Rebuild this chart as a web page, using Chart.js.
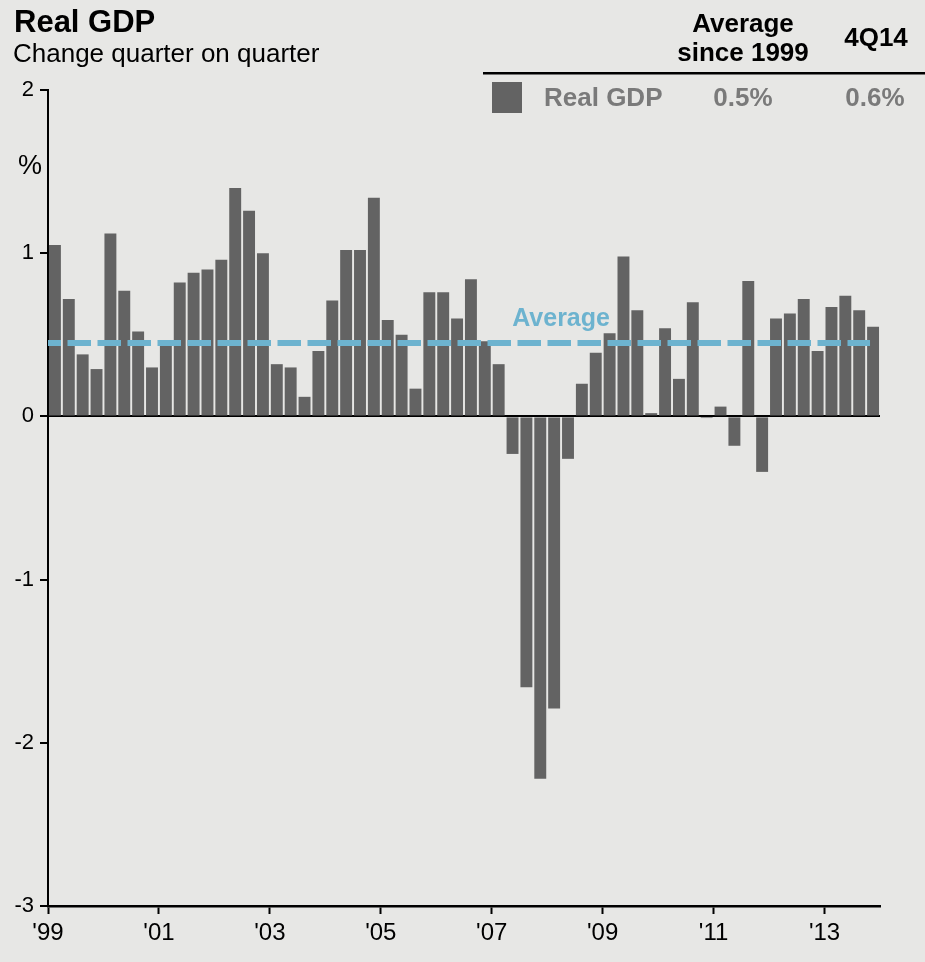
<!doctype html>
<html lang="en">
<head>
<meta charset="utf-8">
<title>Real GDP</title>
<script src="https://cdn.jsdelivr.net/npm/chart.js@4"></script>
<style>
  html, body { margin: 0; padding: 0; background: #e7e7e5; }
  canvas { display: block; }
</style>
</head>
<body>
<canvas id="gdp" width="925" height="962"></canvas>
<script>
// Real GDP, % change quarter on quarter, 1Q99 – 4Q13
const quarters = [
  '1Q99', '2Q99', '3Q99', '4Q99', '1Q00', '2Q00', '3Q00', '4Q00',
  '1Q01', '2Q01', '3Q01', '4Q01', '1Q02', '2Q02', '3Q02', '4Q02',
  '1Q03', '2Q03', '3Q03', '4Q03', '1Q04', '2Q04', '3Q04', '4Q04',
  '1Q05', '2Q05', '3Q05', '4Q05', '1Q06', '2Q06', '3Q06', '4Q06',
  '1Q07', '2Q07', '3Q07', '4Q07', '1Q08', '2Q08', '3Q08', '4Q08',
  '1Q09', '2Q09', '3Q09', '4Q09', '1Q10', '2Q10', '3Q10', '4Q10',
  '1Q11', '2Q11', '3Q11', '4Q11', '1Q12', '2Q12', '3Q12', '4Q12',
  '1Q13', '2Q13', '3Q13', '4Q13',
];
const gdpChange = [
  1.05, 0.72, 0.38, 0.29, 1.12, 0.77, 0.52, 0.30,
  0.44, 0.82, 0.88, 0.90, 0.96, 1.40, 1.26, 1.00,
  0.32, 0.30, 0.12, 0.40, 0.71, 1.02, 1.02, 1.34,
  0.59, 0.50, 0.17, 0.76, 0.76, 0.60, 0.84, 0.46,
  0.32, -0.23, -1.66, -2.22, -1.79, -0.26, 0.20, 0.39,
  0.51, 0.98, 0.65, 0.02, 0.54, 0.23, 0.70, -0.01,
  0.06, -0.18, 0.83, -0.34, 0.60, 0.63, 0.72, 0.40,
  0.67, 0.74, 0.65, 0.55,
];
const yearTicks = [1999, 2001, 2003, 2005, 2007, 2009, 2011, 2013];
const valueTicks = [-3, -2, -1, 0, 1, 2];
const averageSince1999 = 0.45;
const averageSpan = [1999, 2013.82];
const latestChange = gdpChange[gdpChange.length - 1];

const FONT = '"Liberation Sans", Arial, Helvetica, sans-serif';
const BAR = '#636363';
const BLUE = '#6db3cf';
const GREY_TEXT = '#7a7a7a';
const BG = '#e7e7e5';

// '1Q99' -> middle of that quarter on the year axis
function quarterPos(q) {
  const n = Number(q[0]);
  const yy = Number(q.slice(2));
  const year = yy > 50 ? 1900 + yy : 2000 + yy;
  return year + (n - 0.5) / 4;
}

const background = {
  id: 'background',
  beforeDraw(chart) {
    const { ctx, width, height } = chart;
    ctx.save();
    ctx.fillStyle = BG;
    ctx.fillRect(0, 0, width, height);
    ctx.restore();
  },
};

// title, subtitle and the little summary table top right
const header = {
  id: 'header',
  afterDraw(chart) {
    const { ctx } = chart;
    ctx.save();
    ctx.textBaseline = 'alphabetic';
    ctx.fillStyle = '#000';
    ctx.textAlign = 'left';
    ctx.font = 'bold 31px ' + FONT;
    ctx.fillText('Real GDP', 14, 32);
    ctx.font = '26px ' + FONT;
    ctx.fillText('Change quarter on quarter', 13, 62);

    ctx.textAlign = 'center';
    ctx.font = 'bold 26px ' + FONT;
    ctx.fillText('Average', 743, 32);
    ctx.fillText('since 1999', 743, 61);
    ctx.fillText('4Q14', 876, 46);

    ctx.fillRect(483, 72, 442, 2.5);

    ctx.fillStyle = BAR;
    ctx.fillRect(492, 82, 30, 31);
    ctx.fillStyle = GREY_TEXT;
    ctx.textAlign = 'left';
    ctx.fillText('Real GDP', 544, 106);
    ctx.textAlign = 'center';
    ctx.fillText(averageSince1999.toFixed(1) + '%', 743, 106);
    ctx.fillText(latestChange.toFixed(1) + '%', 875, 106);
    ctx.restore();
  },
};

// "%" unit next to the y axis and the "Average" caption over the dashed line
const annotations = {
  id: 'annotations',
  afterDatasetsDraw(chart) {
    const { ctx, scales: { x, y } } = chart;
    ctx.save();
    ctx.textAlign = 'center';
    ctx.textBaseline = 'middle';
    ctx.fillStyle = '#000';
    ctx.font = '27px ' + FONT;
    ctx.fillText('%', chart.chartArea.left - 18, y.getPixelForValue(1.53));

    ctx.textBaseline = 'alphabetic';
    ctx.fillStyle = BLUE;
    ctx.font = 'bold 25px ' + FONT;
    ctx.fillText('Average', x.getPixelForValue(2008.25), y.getPixelForValue(averageSince1999) - 17);
    ctx.restore();
  },
};

new Chart(document.getElementById('gdp'), {
  data: {
    datasets: [
      {
        type: 'line',
        data: averageSpan.map((x) => ({ x, y: averageSince1999 })),
        borderColor: BLUE,
        borderWidth: 6,
        borderDash: [23.5, 6.5],
        borderDashOffset: 10.5,
        borderCapStyle: 'butt',
        pointRadius: 0,
        order: 0,
      },
      {
        type: 'bar',
        data: quarters.map((q, i) => ({ x: quarterPos(q), y: gdpChange[i] })),
        backgroundColor: BAR,
        barPercentage: 0.86,
        categoryPercentage: 1,
        order: 1,
      },
    ],
  },
  options: {
    responsive: false,
    animation: false,
    devicePixelRatio: 1,
    layout: { padding: { top: 90, right: 45, left: 0, bottom: 0 } },
    plugins: { legend: { display: false }, tooltip: { enabled: false } },
    scales: {
      x: {
        type: 'linear',
        min: 1999,
        max: 2014,
        offset: false,
        afterBuildTicks: (a) => { a.ticks = yearTicks.map((v) => ({ value: v })); },
        afterFit: (a) => { a.height = 56; },
        ticks: {
          callback: (v) => "'" + String(v).slice(2),
          font: { family: FONT, size: 24 },
          color: '#000',
          padding: 5,
          autoSkip: false,
          maxRotation: 0,
        },
        grid: { drawOnChartArea: false, offset: false, tickLength: 8, tickColor: '#000', tickWidth: 2 },
        border: { color: '#000', width: 2.5 },
      },
      y: {
        min: -3,
        max: 2,
        afterBuildTicks: (a) => { a.ticks = valueTicks.map((v) => ({ value: v })); },
        afterFit: (a) => { a.width = 48; },
        ticks: {
          font: { family: FONT, size: 22 },
          color: '#000',
          padding: 6,
        },
        grid: {
          color: (c) => (c.tick && c.tick.value === 0 ? '#000' : 'rgba(0,0,0,0)'),
          lineWidth: 2,
          tickColor: '#000',
          tickLength: 8,
          tickWidth: 2,
        },
        border: { color: '#000', width: 2 },
      },
    },
  },
  plugins: [background, header, annotations],
});
</script>
</body>
</html>
